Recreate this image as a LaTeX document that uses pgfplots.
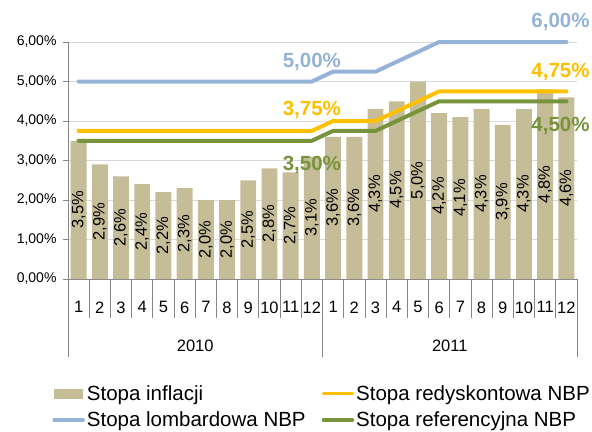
\documentclass[border=0pt]{standalone}
\usepackage{fontspec}
\setmainfont{Liberation Sans}
\usepackage{pgfplots}
\usepackage{pgfplotstable}
\pgfplotsset{compat=1.18}

\definecolor{tanbar}{HTML}{C4BD97}
\definecolor{lomb}{HTML}{95B3D7}
\definecolor{redys}{HTML}{FFC000}
\definecolor{refer}{HTML}{77933C}
\definecolor{axgray}{HTML}{868686}
\definecolor{gridgray}{HTML}{D9D9D9}

% inflacja r/r, 2010-2011, miesiecznie
\pgfplotstableread{
x v
0 3.5
1 2.9
2 2.6
3 2.4
4 2.2
5 2.3
6 2.0
7 2.0
8 2.5
9 2.8
10 2.7
11 3.1
12 3.6
13 3.6
14 4.3
15 4.5
16 5.0
17 4.2
18 4.1
19 4.3
20 3.9
21 4.3
22 4.8
23 4.6
}\inflacja

% stopy NBP
\pgfplotstableread{
x lomb redys ref
0 5.00 3.75 3.50
1 5.00 3.75 3.50
2 5.00 3.75 3.50
3 5.00 3.75 3.50
4 5.00 3.75 3.50
5 5.00 3.75 3.50
6 5.00 3.75 3.50
7 5.00 3.75 3.50
8 5.00 3.75 3.50
9 5.00 3.75 3.50
10 5.00 3.75 3.50
11 5.00 3.75 3.50
12 5.25 4.00 3.75
13 5.25 4.00 3.75
14 5.25 4.00 3.75
15 5.50 4.25 4.00
16 5.75 4.50 4.25
17 6.00 4.75 4.50
18 6.00 4.75 4.50
19 6.00 4.75 4.50
20 6.00 4.75 4.50
21 6.00 4.75 4.50
22 6.00 4.75 4.50
23 6.00 4.75 4.50
}\stopy

\begin{document}
\begin{tikzpicture}[x=1bp,y=1bp]
\useasboundingbox (0,0) rectangle (592,431);
\begin{axis}[
  at={(68bp,152bp)}, anchor=south west,
  scale only axis, width=509bp, height=237bp,
  xmin=-0.5, xmax=23.5, ymin=0, ymax=6,
  clip=false,
  axis x line*=bottom, axis y line*=left,
  axis line style={draw=axgray, -},
  xtick={0,...,23},
  xticklabels={1,2,3,4,5,6,7,8,9,10,11,12,1,2,3,4,5,6,7,8,9,10,11,12},
  xtick style={draw=none},
  ytick={0,1,2,3,4,5,6},
  ytick style={draw=axgray},
  tick align=outside, major tick length=5bp,
  ymajorgrids, grid style={draw=gridgray, line width=0.8bp},
  /pgf/number format/assume math mode=true,
  yticklabel={\pgfmathprintnumber[fixed,fixed zerofill,precision=2,use comma]{\tick}\%},
  yticklabel style={font=\fontsize{14bp}{16bp}\selectfont},
  yticklabel shift=3bp,
  xticklabel style={font=\fontsize{16.5bp}{18bp}\selectfont},
  xticklabel shift=14bp,
  legend columns=2,
  legend cell align=left,
  legend style={draw=none, fill=none, at={(-0.031,-0.44)}, anchor=north west,
    font=\fontsize{20.5bp}{24bp}\selectfont, inner sep=0bp,
    /tikz/every even column/.append style={column sep=14bp}, row sep=6bp},
]
\addplot[ybar, bar width=0.75, fill=tanbar, draw=none,
  legend image code/.code={\fill[tanbar] (0bp,-5bp) rectangle (29bp,5bp);}]
  table[x=x, y=v] \inflacja;
\addlegendentry{Stopa inflacji}

\addplot[draw=none, forget plot, point meta=explicit,
  nodes near coords={\pgfmathprintnumber[fixed,fixed zerofill,precision=1,use comma]{\pgfplotspointmeta}\%},
  every node near coord/.append style={rotate=90, anchor=center, font=\fontsize{16.5bp}{18bp}\selectfont}]
  table[x=x, y expr=\thisrow{v}/2, meta=v] \inflacja;

\pgfplotsset{every axis plot/.append style={line width=4bp, line cap=round, line join=round,
  legend image code/.code={\draw[##1, line width=3.5bp] (0bp,0bp) -- (29bp,0bp);}}}
\addplot[redys, mark=none] table[x=x, y=redys] \stopy;
\addlegendentry{Stopa redyskontowa NBP}
\addplot[lomb, mark=none] table[x=x, y=lomb] \stopy;
\addlegendentry{Stopa lombardowa NBP}
\addplot[refer, mark=none] table[x=x, y=ref] \stopy;
\addlegendentry{Stopa referencyjna NBP}

\node[text=lomb, font=\bfseries\fontsize{20.5bp}{24bp}\selectfont] at (axis cs:11,5.49) {5,00\%};
\node[text=lomb, font=\bfseries\fontsize{20.5bp}{24bp}\selectfont] at (axis cs:22.72,6.506) {6,00\%};
\node[text=redys, font=\bfseries\fontsize{20.5bp}{24bp}\selectfont] at (axis cs:11,4.28) {3,75\%};
\node[text=redys, font=\bfseries\fontsize{20.5bp}{24bp}\selectfont] at (axis cs:22.72,5.24) {4,75\%};
\node[text=refer, font=\bfseries\fontsize{20.5bp}{24bp}\selectfont] at (axis cs:11,2.886) {3,50\%};
\node[text=refer, font=\bfseries\fontsize{20.5bp}{24bp}\selectfont] at (axis cs:22.72,3.873) {4,50\%};
\end{axis}
% separatory kategorii i lat
\foreach \i in {0,...,24}
  \draw[axgray, line width=0.8bp] ({68+\i*509/24},152) -- ({68+\i*509/24},113);
\foreach \i in {0,12,24}
  \draw[axgray, line width=0.8bp] ({68+\i*509/24},152) -- ({68+\i*509/24},74);
\node[font=\fontsize{16.5bp}{18bp}\selectfont] at ({68+6*509/24},85) {2010};
\node[font=\fontsize{16.5bp}{18bp}\selectfont] at ({68+18*509/24},85) {2011};
\end{tikzpicture}
\end{document}
